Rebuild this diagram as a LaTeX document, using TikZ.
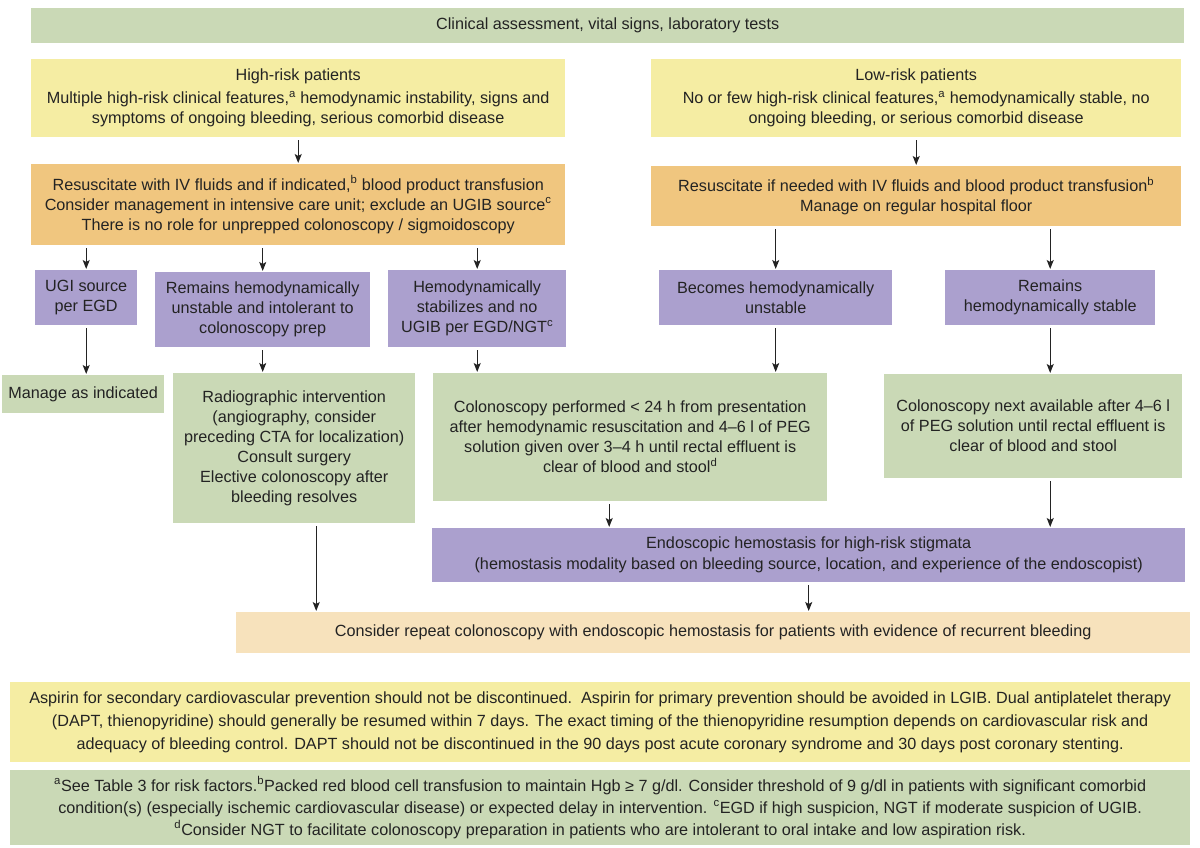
\documentclass[tikz,border=0pt]{standalone}
\usepackage{fontspec}
\setmainfont{Liberation Sans}
\usepackage{xcolor}
\usetikzlibrary{arrows.meta}
\definecolor{sage}{RGB}{202,217,182}
\definecolor{butter}{RGB}{245,237,163}
\definecolor{amber}{RGB}{240,198,127}
\definecolor{lilac}{RGB}{171,160,206}
\definecolor{sand}{RGB}{247,226,188}
\definecolor{ink}{RGB}{35,35,35}

\begin{document}
\begin{tikzpicture}[x=1pt, y=-1pt,
	every node/.style={rectangle, inner sep=0pt, anchor=north west, align=center, text=ink, font=\fontsize{16.2}{20}\selectfont},
	assess/.style={fill=sage}, risk/.style={fill=butter}, resus/.style={fill=amber},
	decide/.style={fill=lilac}, recur/.style={fill=sand},
	note/.style={font=\fontsize{16.2}{23}\selectfont},
	flow/.style={-{Stealth[length=9pt,width=7pt,inset=2pt]}, line width=1.1pt, ink, shorten <=3pt, shorten >=1pt}]
	\useasboundingbox (0,0) rectangle (1200,848);

	\node[assess, minimum width=1153pt, minimum height=35pt] (clin) at (31,8) {Clinical assessment, vital signs, laboratory tests};
	\node[risk, minimum width=534pt, minimum height=78pt] (high) at (31,59) {High-risk patients\\[3pt] Multiple high-risk clinical features,\textsuperscript{a} hemodynamic instability, signs and\\ symptoms of ongoing bleeding, serious comorbid disease};
	\node[risk, minimum width=530pt, minimum height=78pt] (low) at (651,59) {Low-risk patients\\[3pt] No or few high-risk clinical features,\textsuperscript{a} hemodynamically stable, no\\ ongoing bleeding, or serious comorbid disease};
	\node[resus, minimum width=534pt, minimum height=81pt] (resH) at (31,164) {Resuscitate with IV fluids and if indicated,\textsuperscript{b} blood product transfusion\\ Consider management in intensive care unit; exclude an UGIB source\textsuperscript{c}\\ There is no role for unprepped colonoscopy / sigmoidoscopy};
	\node[resus, minimum width=530pt, minimum height=60pt] (resL) at (651,166) {Resuscitate if needed with IV fluids and blood product transfusion\textsuperscript{b}\\ Manage on regular hospital floor};

	\node[decide, minimum width=102pt, minimum height=55pt] (ugi) at (35,270) {UGI source\\ per EGD};
	\node[decide, minimum width=215pt, minimum height=75pt] (unst) at (155,272) {Remains hemodynamically\\ unstable and intolerant to\\ colonoscopy prep};
	\node[decide, minimum width=178pt, minimum height=77pt] (stab) at (388,270) {Hemodynamically\\ stabilizes and no\\ UGIB per EGD/NGT\textsuperscript{c}};
	\node[decide, minimum width=233pt, minimum height=55pt] (worse) at (659,270) {Becomes hemodynamically\\ unstable};
	\node[decide, minimum width=210pt, minimum height=55pt] (steady) at (945,270) {Remains\\ hemodynamically stable};

	\node[assess, minimum width=162pt, minimum height=38pt] (manage) at (2,375) {Manage as indicated};
	\node[assess, minimum width=242pt, minimum height=150pt] (radio) at (173,373) {Radiographic intervention\\ (angiography, consider\\ preceding CTA for localization)\\ Consult surgery\\ Elective colonoscopy after\\ bleeding resolves};
	\node[assess, minimum width=394pt, minimum height=128pt] (urgent) at (433,373) {Colonoscopy performed < 24 h from presentation\\ after hemodynamic resuscitation and 4–6 l of PEG\\ solution given over 3–4 h until rectal effluent is\\ clear of blood and stool\textsuperscript{d}};
	\node[assess, minimum width=298pt, minimum height=104pt] (elective) at (884,374) {Colonoscopy next available after 4–6 l\\ of PEG solution until rectal effluent is\\ clear of blood and stool};

	\node[decide, note, minimum width=753pt, minimum height=54pt] (endo) at (432,528) {Endoscopic hemostasis for high-risk stigmata\\[-2pt] (hemostasis modality based on bleeding source, location, and experience of the endoscopist)};
	\node[recur, note, minimum width=954pt, minimum height=41pt] (again) at (236,612) {Consider repeat colonoscopy with endoscopic hemostasis for patients with evidence of recurrent bleeding};

	\node[risk, note, minimum width=1180pt, minimum height=80pt] (aspirin) at (10,682) {Aspirin for secondary cardiovascular prevention should not be discontinued.\ \ Aspirin for primary prevention should be avoided in LGIB. Dual antiplatelet therapy\\ (DAPT, thienopyridine) should generally be resumed within 7 days. The exact timing of the thienopyridine resumption depends on cardiovascular risk and\\ adequacy of bleeding control. DAPT should not be discontinued in the 90 days post acute coronary syndrome and 30 days post coronary stenting.};
	\node[assess, note, minimum width=1180pt, minimum height=75pt] (foot) at (10,770) {\textsuperscript{a}See Table 3 for risk factors.\textsuperscript{b}Packed red blood cell transfusion to maintain Hgb ≥ 7 g/dl. Consider threshold of 9 g/dl in patients with significant comorbid\\[-1pt] condition(s) (especially ischemic cardiovascular disease) or expected delay in intervention. \textsuperscript{c}EGD if high suspicion, NGT if moderate suspicion of UGIB.\\[-1pt] \textsuperscript{d}Consider NGT to facilitate colonoscopy preparation in patients who are intolerant to oral intake and low aspiration risk.};

	\coordinate (dropA) at ([xshift=-21pt]urgent.south);
	\coordinate (dropB) at ([xshift=22pt]radio.south);

	\draw[flow] (high) -- (resH);
	\draw[flow] (low) -- (resL);
	\draw[flow] (resH.south -| ugi) -- (ugi);
	\draw[flow] (resH.south -| unst) -- (unst);
	\draw[flow] (resH.south -| stab) -- (stab);
	\draw[flow] (resL.south -| worse) -- (worse);
	\draw[flow] (resL.south -| steady) -- (steady);
	\draw[flow] (ugi) -- (ugi |- manage.north);
	\draw[flow] (unst) -- (unst |- radio.north);
	\draw[flow] (stab) -- (stab |- urgent.north);
	\draw[flow] (worse) -- (worse |- urgent.north);
	\draw[flow] (steady) -- (steady |- elective.north);
	\draw[flow] (dropA) -- (dropA |- endo.north);
	\draw[flow] (elective.south -| steady) -- (steady |- endo.north);
	\draw[flow] (dropB) -- (dropB |- again.north);
	\draw[flow] (endo) -- (endo |- again.north);
\end{tikzpicture}
\end{document}
